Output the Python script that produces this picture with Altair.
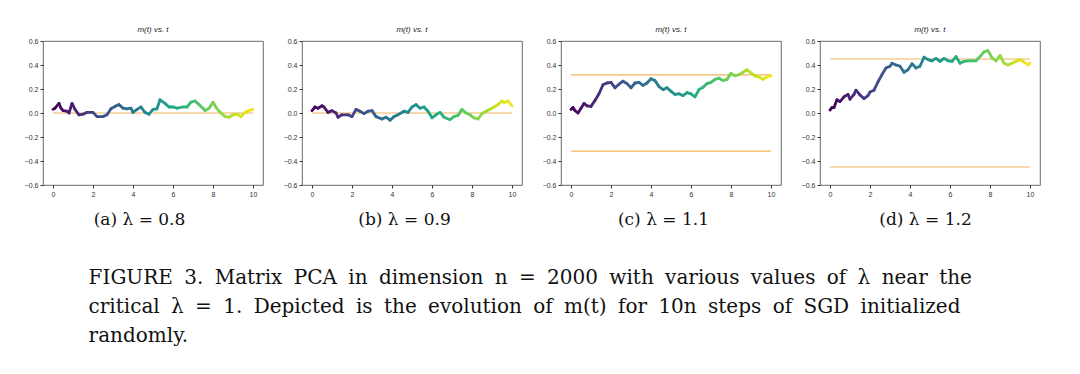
import altair as alt
import pandas as pd

# ---- data ----
t_a = [0, 0.1, 0.3, 0.4, 0.5, 0.7, 0.8, 0.95, 1.1, 1.3, 1.5, 1.7, 2.0, 2.2, 2.5, 2.7, 2.9, 3.1, 3.3, 3.5, 3.7, 3.9,
       4.0, 4.2, 4.4, 4.6, 4.8, 5.0, 5.2, 5.35, 5.6, 5.8, 6.0, 6.2, 6.5, 6.7, 6.9, 7.1, 7.3, 7.5, 7.6, 7.8, 8.0, 8.2,
       8.4, 8.6, 8.8, 9.0, 9.2, 9.4, 9.6, 9.8, 10.0]
m_a = [0.03, 0.04, 0.08, 0.04, 0.02, 0.015, 0.0, 0.08, 0.03, -0.015, -0.01, 0.005, 0.005, -0.03, -0.03, -0.015,
       0.035, 0.055, 0.07, 0.04, 0.035, 0.04, 0.005, 0.03, 0.05, 0.005, -0.01, 0.03, 0.035, 0.11, 0.08, 0.05, 0.05,
       0.04, 0.05, 0.05, 0.09, 0.1, 0.07, 0.04, 0.02, 0.04, 0.09, 0.035, 0.0, -0.03, -0.035, -0.015, -0.01, -0.03,
       0.005, 0.02, 0.03]

t_b = [0, 0.15, 0.3, 0.5, 0.6, 0.8, 1.0, 1.2, 1.3, 1.5, 1.8, 2.0, 2.2, 2.4, 2.6, 2.8, 3.0, 3.2, 3.5, 3.7, 3.9, 4.1,
       4.3, 4.6, 4.8, 5.0, 5.2, 5.4, 5.6, 5.8, 6.0, 6.2, 6.4, 6.6, 6.9, 7.1, 7.3, 7.5, 7.7, 7.9, 8.1, 8.3, 8.5, 8.7,
       8.9, 9.1, 9.3, 9.5, 9.6, 9.8, 10.0]
m_b = [0.02, 0.05, 0.04, 0.06, 0.05, 0.005, 0.02, 0.0, -0.035, -0.015, -0.015, -0.03, 0.03, 0.015, -0.005, 0.015,
       0.02, -0.03, -0.05, -0.035, -0.06, -0.03, -0.015, 0.015, 0.005, 0.05, 0.07, 0.04, 0.05, 0.015, -0.04, -0.015,
       0.005, -0.035, -0.055, -0.03, -0.02, 0.03, 0.0, -0.015, -0.04, -0.05, -0.005, 0.015, 0.03, 0.05, 0.07, 0.1,
       0.085, 0.1, 0.06]

t_c = [0, 0.1, 0.2, 0.35, 0.5, 0.65, 0.8, 1.0, 1.2, 1.4, 1.6, 1.8, 2.0, 2.2, 2.4, 2.6, 2.8, 3.0, 3.2, 3.4, 3.6, 3.8,
       4.0, 4.2, 4.4, 4.6, 4.8, 5.0, 5.2, 5.4, 5.6, 5.8, 6.0, 6.2, 6.4, 6.6, 6.8, 7.0, 7.2, 7.4, 7.6, 7.8, 8.0, 8.2,
       8.4, 8.6, 8.8, 9.0, 9.2, 9.4, 9.6, 9.8, 10.0]
m_c = [0.03, 0.045, 0.02, 0.0, 0.04, 0.08, 0.06, 0.055, 0.105, 0.16, 0.235, 0.25, 0.255, 0.21, 0.24, 0.265, 0.245,
       0.21, 0.25, 0.255, 0.23, 0.25, 0.285, 0.27, 0.22, 0.195, 0.21, 0.18, 0.155, 0.16, 0.145, 0.17, 0.16, 0.135,
       0.195, 0.215, 0.245, 0.255, 0.28, 0.29, 0.27, 0.28, 0.33, 0.31, 0.32, 0.34, 0.36, 0.335, 0.31, 0.30, 0.28,
       0.30, 0.31]

t_d = [0, 0.1, 0.2, 0.35, 0.5, 0.7, 0.9, 1.0, 1.2, 1.3, 1.5, 1.7, 1.9, 2.0, 2.2, 2.4, 2.6, 2.8, 3.0, 3.1, 3.3, 3.5,
       3.7, 3.9, 4.1, 4.3, 4.5, 4.7, 4.9, 5.1, 5.3, 5.5, 5.7, 5.9, 6.1, 6.3, 6.5, 6.7, 6.9, 7.1, 7.3, 7.5, 7.7, 7.9,
       8.1, 8.3, 8.5, 8.7, 8.9, 9.1, 9.3, 9.5, 9.7, 9.9, 10.0]
m_d = [0.025, 0.045, 0.045, 0.11, 0.095, 0.135, 0.155, 0.115, 0.155, 0.19, 0.15, 0.12, 0.145, 0.175, 0.19, 0.26,
       0.32, 0.375, 0.39, 0.415, 0.40, 0.39, 0.34, 0.36, 0.41, 0.375, 0.39, 0.465, 0.445, 0.435, 0.455, 0.43, 0.455,
       0.435, 0.43, 0.47, 0.415, 0.43, 0.435, 0.435, 0.435, 0.47, 0.51, 0.52, 0.46, 0.435, 0.48, 0.415, 0.40, 0.415,
       0.43, 0.445, 0.425, 0.40, 0.415]

levels_a = [0.0]
levels_b = [0.0]
levels_c = [0.317, -0.317]
levels_d = [0.45, -0.45]

sub_captions = ["(a)  λ = 0.8", "(b)  λ = 0.9", "(c)  λ = 1.1", "(d)  λ = 1.2"]
sub_caption_shift = [-14, -8, -8, -5]
panel_title = "m(t) vs. t"
GAP = " \u2005"
caption_words = [
    "FIGURE 3.  Matrix PCA in dimension n = 2000 with various values of λ near the",
    "critical λ = 1.  Depicted is the evolution of m(t) for 10n steps of SGD initialized",
    "randomly.",
]
caption_lines = [GAP.join(line.replace("  ", " ").split(" ")) for line in caption_words]

y_ticks = [-0.6, -0.4, -0.2, 0.0, 0.2, 0.4, 0.6]
x_ticks = [0, 2, 4, 6, 8, 10]

W, H = 220, 144
ORANGE = "#f2b45c"


def panel(ts, ms, levels, cap, shift):
    seg = pd.DataFrame({"t": ts[:-1], "m": ms[:-1], "t2": ts[1:], "m2": ms[1:]})
    lv = pd.DataFrame({"lvl": levels, "x0": [0] * len(levels), "x1": [10] * len(levels)})
    xs = alt.Scale(domain=[-0.5, 10.5], nice=False, zero=False)
    ys = alt.Scale(domain=[-0.6, 0.6], nice=False, zero=False)
    xaxis = alt.Axis(values=x_ticks, title=cap, format="d", grid=False, domain=False,
                     labelFontSize=7, labelColor="#333", tickColor="#333", tickSize=3,
                     labelOverlap=False, labelPadding=2,
                     titleFont="DejaVu Serif", titleFontSize=17, titleFontWeight="normal",
                     titleColor="#111", titlePadding=14, titleX=W / 2 + shift, titleAlign="center")
    yaxis = alt.Axis(values=y_ticks, tickCount=7, title=None, format=".1f", grid=False, domain=False,
                     labelFontSize=7, labelColor="#333", tickColor="#333", tickSize=3,
                     labelOverlap=False, labelPadding=2, minExtent=20, maxExtent=20)
    lines = alt.Chart(seg).mark_rule(strokeWidth=2.8, strokeCap="round").encode(
        x=alt.X("t:Q", scale=xs, axis=xaxis),
        x2="t2:Q",
        y=alt.Y("m:Q", scale=ys, axis=yaxis),
        y2="m2:Q",
        color=alt.Color("t:Q", scale=alt.Scale(scheme="viridis", domain=[0, 10]), legend=None),
    )
    hl = alt.Chart(lv).mark_rule(color=ORANGE, strokeWidth=1.2).encode(
        x=alt.X("x0:Q", scale=xs, axis=xaxis), x2="x1:Q", y=alt.Y("lvl:Q", scale=ys, axis=yaxis)
    )
    return alt.layer(hl, lines).properties(
        width=W, height=H,
        title=alt.TitleParams(panel_title, fontSize=8, fontWeight="normal", fontStyle="italic",
                              color="#222", offset=3),
    )


chart = alt.hconcat(
    panel(t_a, m_a, levels_a, sub_captions[0], sub_caption_shift[0]),
    panel(t_b, m_b, levels_b, sub_captions[1], sub_caption_shift[1]),
    panel(t_c, m_c, levels_c, sub_captions[2], sub_caption_shift[2]),
    panel(t_d, m_d, levels_d, sub_captions[3], sub_caption_shift[3]),
    spacing=17,
).properties(
    title=alt.TitleParams(caption_lines, orient="bottom", anchor="start", font="DejaVu Serif",
                          fontSize=20, fontWeight="normal", color="#111", lineHeight=29,
                          offset=41, dx=66),
    padding={"left": 14, "top": 17, "right": 5, "bottom": 5},
    background="white",
).configure_view(stroke="#444", strokeWidth=0.8)

chart.save("out.html", embed_options={"renderer": "svg", "actions": False})
